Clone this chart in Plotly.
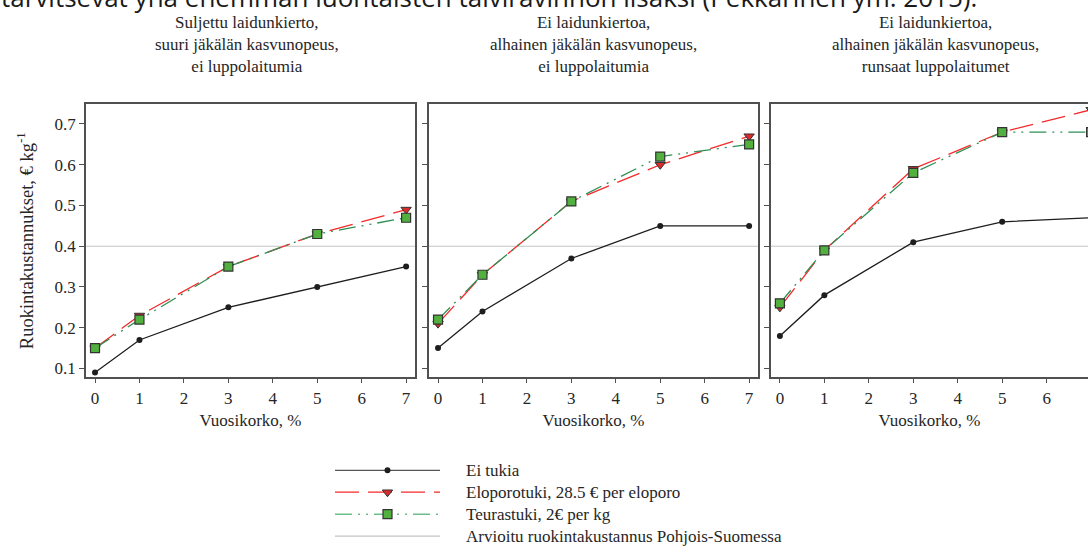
import plotly.graph_objects as go

# ---------------- data ----------------
korko = [0, 1, 3, 5, 7]

panel_titles = [
    "Suljettu laidunkierto,<br>suuri jäkälän kasvunopeus,<br>ei luppolaitumia",
    "Ei laidunkiertoa,<br>alhainen jäkälän kasvunopeus,<br>ei luppolaitumia",
    "Ei laidunkiertoa,<br>alhainen jäkälän kasvunopeus,<br>runsaat luppolaitumet",
]

ei_tukia = [
    [0.09, 0.17, 0.25, 0.30, 0.35],
    [0.15, 0.24, 0.37, 0.45, 0.45],
    [0.18, 0.28, 0.41, 0.46, 0.47],
]
eloporotuki = [
    [0.15, 0.23, 0.35, 0.43, 0.49],
    [0.21, 0.33, 0.51, 0.60, 0.67],
    [0.25, 0.39, 0.59, 0.68, 0.735],
]
teurastuki = [
    [0.15, 0.22, 0.35, 0.43, 0.47],
    [0.22, 0.33, 0.51, 0.62, 0.65],
    [0.26, 0.39, 0.58, 0.68, 0.68],
]
arvioitu_kustannus = 0.4

series_names = [
    "Ei tukia",
    "Eloporotuki, 28.5 € per eloporo",
    "Teurastuki, 2€ per kg",
    "Arvioitu ruokintakustannus Pohjois-Suomessa",
]

y_ticks = [0.1, 0.2, 0.3, 0.4, 0.5, 0.6, 0.7]
x_ticks = [0, 1, 2, 3, 4, 5, 6, 7]

x_title = "Vuosikorko, %"
y_title = "Ruokintakustannukset, € kg<sup>-1</sup>"
top_text = "tarvitsevat yhä enemmän luontaisten talviravinnon lisäksi (Pekkarinen ym. 2015)."

# ---------------- style ----------------
W, H = 1088, 556
SERIF = "Liberation Serif, Times New Roman, serif"
TXT = "#262626"
FRAME = "#505050"
BLACK = "#1e1e1e"
RED = "#f42a2a"
GREEN_LINE = "#2f8f55"
GREEN_FILL = "#52b03e"
RED_FILL = "#d92b2b"
GREY = "#c4c4c4"
RED_DASH = "24px,9px"
GREEN_DASH = "17px,6px,2px,6px,2px,6px"
FS = 17

def px_x(p):
    return p / W

def px_y(p):
    return (H - p) / H

panel_px = [(86, 415), (429, 758), (771, 1088)]
title_cx = [247, 593, 935]
x_ranges = [[-0.203, 7.2], [-0.203, 7.2], [-0.2, 6.93]]
y_dom = [px_y(378), px_y(104)]
y_range = [0.08, 0.75]

fig = go.Figure()

for i in range(3):
    xa = "x" if i == 0 else f"x{i+1}"
    ya = "y" if i == 0 else f"y{i+1}"
    # reference line
    fig.add_trace(go.Scatter(
        x=[x_ranges[i][0], x_ranges[i][1]], y=[arvioitu_kustannus, arvioitu_kustannus],
        mode="lines", line=dict(color=GREY, width=1.2),
        xaxis=xa, yaxis=ya, showlegend=False, hoverinfo="skip"))
    fig.add_trace(go.Scatter(
        x=korko, y=ei_tukia[i], mode="lines+markers",
        line=dict(color=BLACK, width=1.3),
        marker=dict(symbol="circle", size=6, color=BLACK),
        xaxis=xa, yaxis=ya, showlegend=False, name=series_names[0]))
    fig.add_trace(go.Scatter(
        x=korko, y=eloporotuki[i], mode="lines",
        line=dict(color=RED, width=1.3, dash=RED_DASH),
        xaxis=xa, yaxis=ya, showlegend=False, name=series_names[1]))
    fig.add_trace(go.Scatter(
        x=korko, y=teurastuki[i], mode="lines",
        line=dict(color=GREEN_LINE, width=1.3, dash=GREEN_DASH),
        xaxis=xa, yaxis=ya, showlegend=False, name=series_names[2]))
    fig.add_trace(go.Scatter(
        x=korko, y=eloporotuki[i], mode="markers",
        marker=dict(symbol="triangle-down", size=9, color=RED_FILL,
                    line=dict(color="#333333", width=1)),
        xaxis=xa, yaxis=ya, showlegend=False, name=series_names[1]))
    fig.add_trace(go.Scatter(
        x=korko, y=teurastuki[i], mode="markers",
        marker=dict(symbol="square", size=9, color=GREEN_FILL,
                    line=dict(color="#333333", width=1.2)),
        xaxis=xa, yaxis=ya, showlegend=False, name=series_names[2]))

    axis_common = dict(showline=True, linecolor=FRAME, linewidth=1.5,
                       ticks="outside", ticklen=5, tickcolor=FRAME, tickwidth=1.3,
                       showgrid=False, zeroline=False,
                       tickfont=dict(family=SERIF, size=FS, color=TXT))
    xkey = "xaxis" if i == 0 else f"xaxis{i+1}"
    ykey = "yaxis" if i == 0 else f"yaxis{i+1}"
    fig.update_layout({
        xkey: dict(axis_common, domain=[px_x(panel_px[i][0]), px_x(panel_px[i][1])],
                   range=x_ranges[i], tickvals=x_ticks, mirror=True, anchor=ya,
                   title=dict(text=x_title, font=dict(family=SERIF, size=FS, color=TXT),
                              standoff=7)),
        ykey: dict(axis_common, domain=y_dom, range=y_range, tickvals=y_ticks,
                   tickformat=".1f", mirror=(i < 2), anchor=xa,
                   showticklabels=(i == 0)),
    })

    # panel titles
    fig.add_annotation(
        x=px_x(title_cx[i]), y=px_y(45), xref="paper", yref="paper",
        xanchor="center", yanchor="middle",
        text=panel_titles[i], showarrow=False, align="center",
        font=dict(family=SERIF, size=FS, color=TXT))

# y axis title
fig.add_annotation(x=px_x(25), y=px_y(242), xref="paper", yref="paper",
                   xanchor="center", yanchor="middle", textangle=-90,
                   text=y_title, showarrow=False,
                   font=dict(family=SERIF, size=18.5, color=TXT))

# ---------------- manual legend ----------------
rows = [1, 2, 3, 4]
fig.update_layout(
    xaxis4=dict(domain=[px_x(335), px_x(440)], range=[0, 1], visible=False, anchor="y4"),
    yaxis4=dict(domain=[px_y(549), px_y(461)], range=[4.5, 0.5], visible=False, anchor="x4"),
)
leg_lines = [
    dict(color="#555555", width=1.3),
    dict(color=RED, width=1.3, dash=RED_DASH),
    dict(color="#6cbf8a", width=1.5, dash=GREEN_DASH),
    dict(color=GREY, width=1.2),
]
leg_markers = [
    dict(symbol="circle", size=6, color=BLACK),
    dict(symbol="triangle-down", size=9, color=RED_FILL, line=dict(color="#333333", width=1)),
    dict(symbol="square", size=9, color=GREEN_FILL, line=dict(color="#333333", width=1.2)),
    None,
]
for r, ln, mk, nm in zip(rows, leg_lines, leg_markers, series_names):
    fig.add_trace(go.Scatter(x=[0, 1], y=[r, r], mode="lines", line=ln,
                             xaxis="x4", yaxis="y4", showlegend=False, hoverinfo="skip"))
    if mk is not None:
        fig.add_trace(go.Scatter(x=[0.5], y=[r], mode="markers", marker=mk,
                                 xaxis="x4", yaxis="y4", showlegend=False, hoverinfo="skip"))
    fig.add_annotation(x=px_x(464), y=r, xref="paper", yref="y4", xanchor="left",
                       yanchor="middle", text=nm, showarrow=False,
                       font=dict(family=SERIF, size=FS, color=TXT))

# cut-off sentence at the very top
fig.add_annotation(x=px_x(-1), y=px_y(-3.5), xref="paper", yref="paper", xanchor="left",
                   yanchor="middle", text=top_text, showarrow=False,
                   font=dict(family="Open Sans, sans-serif", size=26, color="#1a1a1a"))

fig.update_layout(width=W, height=H, margin=dict(l=0, r=0, t=0, b=0),
                  paper_bgcolor="white", plot_bgcolor="white", showlegend=False)

fig.write_html("out.html", config={"displayModeBar": False},
               post_script="document.body.style.margin='0';document.body.style.overflow='hidden';")
